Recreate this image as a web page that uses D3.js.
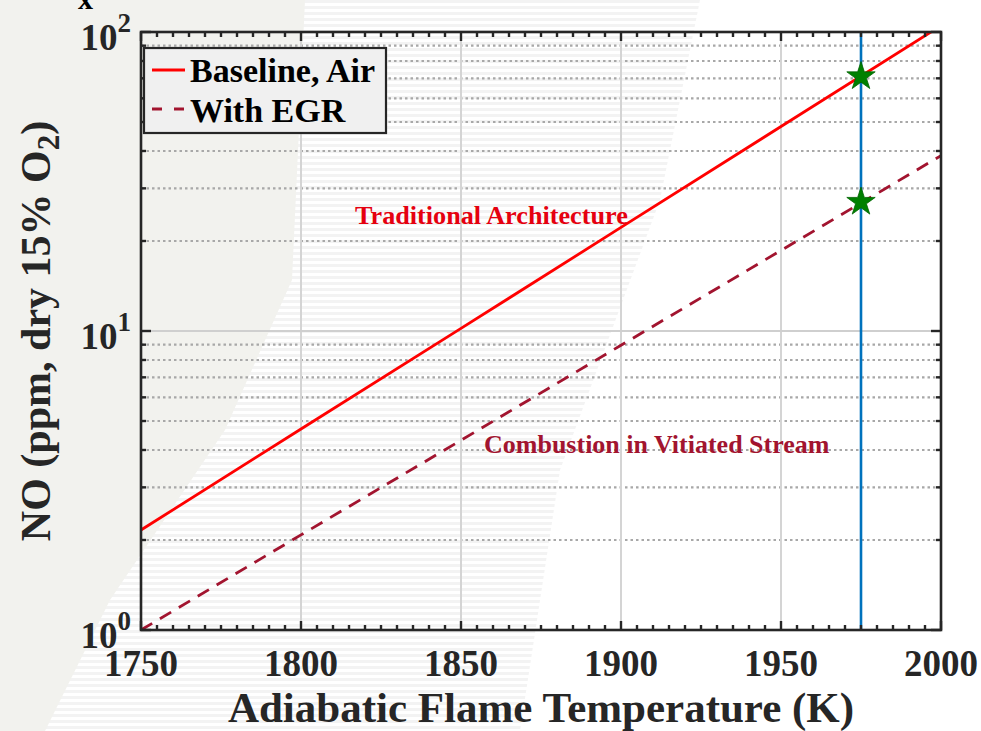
<!DOCTYPE html>
<html>
<head>
<meta charset="utf-8">
<script src="https://cdn.jsdelivr.net/npm/d3@7"></script>
<style>
  html, body { margin: 0; padding: 0; background: #ffffff; }
  svg { display: block; }
  text { font-family: "Liberation Serif", "Times New Roman", serif; font-weight: bold; }
</style>
</head>
<body>
<svg id="chart" width="981" height="731"></svg>
<script>
// Adiabatic flame temperature (K) sample points for each NO curve
const temperatures = [1750, 1800, 1850, 1900, 1950, 2000];
// NO (ppm, dry 15% O2), baseline combustion in air
const baselineAir = [2.16, 4.70, 10.2, 22.2, 48.3, 105];
// NO (ppm, dry 15% O2), with exhaust gas recirculation
const withEGR = [1.00, 2.08, 4.31, 8.96, 18.6, 38.6];
// Operating point marked on both curves
const operatingTemp = 1975;
const operatingNO = [71, 27];
// Axis ticks
const xTicks = [1750, 1800, 1850, 1900, 1950, 2000];
const yDecades = [1, 10, 100];
const yExponents = ["0", "1", "2"];
// Series names and annotations
const seriesNames = ["Baseline, Air", "With EGR"];
const annotations = ["Traditional Architecture", "Combustion in Vitiated Stream"];

const svg = d3.select("#chart");
const W = 981, H = 731;
const m = { left: 141, right: 941, top: 32, bottom: 630 };

// ---- page backdrop: grey wedge with faint striping ----
const bg = svg.append("g");
bg.append("rect").attr("width", W).attr("height", H).attr("fill", "#ffffff");
const stripes = svg.append("defs").append("pattern")
  .attr("id", "stripes").attr("patternUnits", "userSpaceOnUse")
  .attr("width", 10).attr("height", 6);
stripes.append("rect").attr("width", 10).attr("height", 3).attr("fill", "#f1f1f1");
bg.append("path")
  .attr("d", "M300,0 L700,0 L660,200 L560,470 L520,731 L40,731 Z")
  .attr("fill", "url(#stripes)").attr("opacity", 0.85);
bg.append("path")
  .attr("d", "M0,0 L305,0 L292,280 L225,430 L110,600 L45,731 L0,731 Z")
  .attr("fill", "#f2f2ee");

// ---- scales ----
const x = d3.scaleLinear().domain([1750, 2000]).range([m.left, m.right]);
const y = d3.scaleLog().domain([1, 100]).range([m.bottom, m.top]);

// ---- grid ----
const grid = svg.append("g");
const minorY = [];
[1, 10].forEach(d => { for (let k = 2; k <= 9; k++) minorY.push(d * k); });
grid.selectAll(".minor").data(minorY).join("line")
  .attr("x1", m.left).attr("x2", m.right)
  .attr("y1", d => y(d)).attr("y2", d => y(d))
  .attr("stroke", "#a8a8a8").attr("stroke-width", 2.2)
  .attr("stroke-dasharray", "2.5,3");
grid.selectAll(".vmaj").data(xTicks.slice(1, -1)).join("line")
  .attr("x1", d => x(d)).attr("x2", d => x(d))
  .attr("y1", m.top).attr("y2", m.bottom)
  .attr("stroke", "#d4d4d4").attr("stroke-width", 2);
grid.selectAll(".hmaj").data(yDecades.slice(1, -1)).join("line")
  .attr("x1", m.left).attr("x2", m.right)
  .attr("y1", d => y(d)).attr("y2", d => y(d))
  .attr("stroke", "#cfcfcf").attr("stroke-width", 2);

// ---- data lines ----
svg.append("defs").append("clipPath").attr("id", "plotclip")
  .append("rect").attr("x", m.left).attr("y", m.top)
  .attr("width", m.right - m.left).attr("height", m.bottom - m.top);

const line = d3.line().x(d => x(d[0])).y(d => y(d[1]));
const plot = svg.append("g").attr("clip-path", "url(#plotclip)");

plot.append("line")
  .attr("x1", x(operatingTemp)).attr("x2", x(operatingTemp))
  .attr("y1", m.top).attr("y2", m.bottom)
  .attr("stroke", "#0072bd").attr("stroke-width", 2.6);

plot.append("path")
  .datum(temperatures.map((t, i) => [t, baselineAir[i]]))
  .attr("d", line).attr("fill", "none")
  .attr("stroke", "#ff0000").attr("stroke-width", 2.8);

plot.append("path")
  .datum(temperatures.map((t, i) => [t, withEGR[i]]))
  .attr("d", line).attr("fill", "none")
  .attr("stroke", "#a2142f").attr("stroke-width", 2.8)
  .attr("stroke-dasharray", "13,9");

plot.selectAll(".star").data(operatingNO).join("path")
  .attr("transform", d => `translate(${x(operatingTemp)},${y(d)})`)
  .attr("d", d3.symbol(d3.symbolStar, 250))
  .attr("fill", "#008000").attr("stroke", "#006400").attr("stroke-width", 0.8);

// ---- annotations ----
svg.append("text").text(annotations[0])
  .attr("x", 355).attr("y", 224)
  .attr("font-size", 26.2).attr("fill", "#e5000f");
svg.append("text").text(annotations[1])
  .attr("x", 484).attr("y", 453)
  .attr("font-size", 26).attr("fill", "#a2142f");

// ---- axes box and ticks ----
const axisColor = "#262626";
const ax = svg.append("g");
const minorX = d3.range(1755, 2000, 5).filter(t => t % 50 !== 0);
// bottom & top ticks
[[m.bottom, -1], [m.top, 1]].forEach(([yy, dir]) => {
  ax.selectAll(null).data(xTicks).join("line")
    .attr("x1", d => x(d)).attr("x2", d => x(d))
    .attr("y1", yy).attr("y2", yy + dir * 9)
    .attr("stroke", axisColor).attr("stroke-width", 2.4);
  ax.selectAll(null).data(minorX).join("line")
    .attr("x1", d => x(d)).attr("x2", d => x(d))
    .attr("y1", yy).attr("y2", yy + dir * 5)
    .attr("stroke", axisColor).attr("stroke-width", 2.4);
});
// left & right ticks
[[m.left, 1], [m.right, -1]].forEach(([xx, dir]) => {
  ax.selectAll(null).data(yDecades).join("line")
    .attr("x1", xx).attr("x2", xx + dir * 10)
    .attr("y1", d => y(d)).attr("y2", d => y(d))
    .attr("stroke", axisColor).attr("stroke-width", 2.4);
  ax.selectAll(null).data(minorY).join("line")
    .attr("x1", xx).attr("x2", xx + dir * 5)
    .attr("y1", d => y(d)).attr("y2", d => y(d))
    .attr("stroke", axisColor).attr("stroke-width", 2.4);
});
ax.append("rect")
  .attr("x", m.left).attr("y", m.top)
  .attr("width", m.right - m.left).attr("height", m.bottom - m.top)
  .attr("fill", "none").attr("stroke", axisColor).attr("stroke-width", 2.6);

// x tick labels
svg.append("g").selectAll("text").data(xTicks).join("text")
  .attr("x", d => x(d)).attr("y", 676)
  .attr("text-anchor", "middle").attr("font-size", 37)
  .attr("fill", "#262626").text(d => d);

// y tick labels 10^n
const yl = svg.append("g").selectAll("text").data(yDecades).join("text")
  .attr("x", 131).attr("y", d => y(d) + 18)
  .attr("text-anchor", "end").attr("font-size", 37).attr("fill", "#262626");
yl.append("tspan").text("10");
yl.append("tspan").attr("dy", -18).attr("font-size", 27).text((d, i) => yExponents[i]);

// axis titles
svg.append("text")
  .attr("x", (m.left + m.right) / 2).attr("y", 722)
  .attr("text-anchor", "middle").attr("font-size", 43).attr("fill", "#262626")
  .text("Adiabatic Flame Temperature (K)");

const yt = svg.append("text")
  .attr("transform", `translate(50,${(m.top + m.bottom) / 2}) rotate(-90)`)
  .attr("text-anchor", "middle").attr("font-size", 42).attr("fill", "#262626");
yt.append("tspan").text("NO (ppm, dry 15% O");
yt.append("tspan").attr("dy", 9).attr("font-size", 31).text("2");
yt.append("tspan").attr("dy", -9).text(")");

// cropped figure-title fragments along the top edge
svg.append("text").attr("x", 78).attr("y", 9).attr("font-size", 30)
  .attr("font-weight", "normal").attr("fill", "#000").text("x");
svg.append("text").attr("x", 554).attr("y", -11).attr("font-size", 50)
  .attr("font-weight", "normal").attr("fill", "#000").text("g");

// ---- legend ----
const lg = svg.append("g");
lg.append("rect").attr("x", 144).attr("y", 48).attr("width", 242).attr("height", 85)
  .attr("fill", "#f0f0f0").attr("stroke", axisColor).attr("stroke-width", 2.2);
lg.append("line").attr("x1", 152).attr("x2", 185).attr("y1", 70).attr("y2", 70)
  .attr("stroke", "#ff0000").attr("stroke-width", 2.8);
lg.append("line").attr("x1", 152).attr("x2", 185).attr("y1", 109).attr("y2", 109)
  .attr("stroke", "#a2142f").attr("stroke-width", 2.8).attr("stroke-dasharray", "10,12");
lg.selectAll(".lt").data(seriesNames).join("text")
  .attr("x", 190).attr("y", (d, i) => 82 + i * 40)
  .attr("font-size", 34).attr("fill", "#000").text(d => d);
</script>
</body>
</html>
